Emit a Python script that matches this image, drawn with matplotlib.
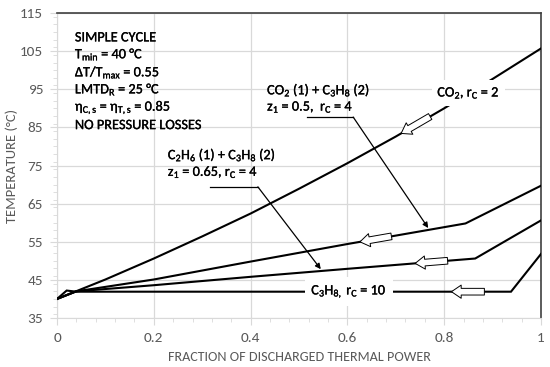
import numpy as np
import matplotlib
matplotlib.use("Agg")
import matplotlib.pyplot as plt
import matplotlib.patheffects as pe
from matplotlib.patches import FancyArrowPatch
from matplotlib.ticker import MultipleLocator, FuncFormatter

plt.rcParams['font.family'] = ['Carlito', 'DejaVu Sans']
plt.rcParams['mathtext.fontset'] = 'custom'
plt.rcParams['mathtext.rm'] = 'Carlito'
plt.rcParams['mathtext.it'] = 'Carlito'

# ---- data ----
co2_x = [0.0, 0.1, 0.2, 0.3, 0.4, 0.5, 0.6, 0.7, 0.8, 0.9, 1.0]
co2_t = [40.0, 45.1, 50.6, 56.4, 62.4, 68.9, 75.6, 82.6, 90.0, 97.7, 105.7]

co2c3_x = [0.0, 0.04, 0.2, 0.4, 0.6, 0.844, 1.0]
co2c3_t = [40.0, 42.0, 45.1, 49.8, 54.4, 59.8, 69.7]

c2c3_x = [0.0, 0.04, 0.2, 0.4, 0.6, 0.864, 1.0]
c2c3_t = [40.0, 42.0, 43.6, 45.8, 47.9, 50.6, 60.6]

c3_x = [0.0, 0.02, 0.04, 0.938, 1.0]
c3_t = [40.0, 42.2, 41.9, 41.9, 51.8]

# hollow flow-direction arrows (tail x, tip x) on each curve
arrows = [
    (co2_x, co2_t, 0.771, 0.711),
    (co2c3_x, co2c3_t, 0.691, 0.626),
    (c2c3_x, c2c3_t, 0.807, 0.740),
    (c3_x, c3_t, 0.883, 0.815),
]

x_ticks = [0, 0.2, 0.4, 0.6, 0.8, 1.0]
y_ticks = [35, 45, 55, 65, 75, 85, 95, 105, 115]

info_lines = [
    'SIMPLE CYCLE',
    r'T$_\mathregular{min}$ = 40 °C',
    r'ΔT/T$_\mathregular{max}$ = 0.55',
    r'LMTD$_\mathregular{R}$ = 25 °C',
    r'η$_\mathregular{C,s}$ = η$_\mathregular{T,s}$ = 0.85',
    'NO PRESSURE LOSSES',
]
info_y = [108.6, 104.0, 99.4, 94.8, 90.2, 85.6]

# ---- figure ----
fig = plt.figure(figsize=(5.5, 3.67), dpi=100)
ax = fig.add_axes([57/550, 1-318/367, (541-57)/550, (318-13)/367])
ax.set_xlim(0, 1)
ax.set_ylim(35, 115)

grid_c = '#d9d9d9'
tick_c = '#595959'
fs = 10.3
bold_fx = [pe.withStroke(linewidth=0.2, foreground='black')]
ax.set_xticks(x_ticks)
ax.set_yticks(y_ticks)
ax.xaxis.set_minor_locator(MultipleLocator(0.04))
ax.yaxis.set_minor_locator(MultipleLocator(2))
ax.xaxis.set_major_formatter(FuncFormatter(lambda v, p: f'{v:g}'))
ax.grid(True, which='major', color=grid_c, lw=0.9)
ax.set_axisbelow(True)
ax.tick_params(which='major', direction='out', length=5, color=grid_c,
               labelcolor=tick_c, labelsize=11, pad=5)
ax.tick_params(which='minor', direction='out', length=3, color=grid_c)
for s in ['left', 'bottom']:
    ax.spines[s].set_color(grid_c)
for s in ['top', 'right']:
    ax.spines[s].set_color('#404040')
    ax.spines[s].set_linewidth(1.2)

lw = 1.5
for xs, ts in [(co2_x, co2_t), (co2c3_x, co2c3_t), (c2c3_x, c2c3_t), (c3_x, c3_t)]:
    ax.plot(xs, ts, color='black', lw=lw, zorder=3, solid_joinstyle='miter')

for xs, ts, xt, xh in arrows:
    yt = np.interp(xt, xs, ts)
    yh = np.interp(xh, xs, ts)
    a = FancyArrowPatch((xt, yt), (xh, yh),
                        arrowstyle='simple,head_length=7,head_width=9.5,tail_width=4.8',
                        mutation_scale=1, fc='white', ec='black', lw=0.7,
                        shrinkA=0, shrinkB=0, zorder=5)
    ax.add_patch(a)

# line labels with white background
ax.text(0.85, 94.0, r'CO$_\mathregular{2}$, r$_\mathregular{C}$ = 2', ha='center', va='center',
        fontsize=fs, zorder=6, path_effects=bold_fx,
        bbox=dict(boxstyle='square,pad=0.4', fc='white', ec='none'))
ax.text(0.603, 41.9, r'C$_\mathregular{3}$H$_\mathregular{8,}$ r$_\mathregular{C}$ = 10', ha='center', va='center',
        fontsize=fs, zorder=6, path_effects=bold_fx,
        bbox=dict(boxstyle='square,pad=0.45', fc='white', ec='none'))

# mixture labels with leaders
ax.text(0.434, 94.8, r'CO$_\mathregular{2}$ (1) + C$_\mathregular{3}$H$_\mathregular{8}$ (2)',
        ha='left', va='center', fontsize=fs, zorder=6, path_effects=bold_fx)
ax.text(0.434, 90.3, r'z$_\mathregular{1}$ = 0.5,  r$_\mathregular{C}$ = 4',
        ha='left', va='center', fontsize=fs, zorder=6, path_effects=bold_fx)
ax.plot([0.517, 0.612], [87.7, 87.7], color='black', lw=0.9, zorder=6)
ax.annotate('', xy=(0.767, 58.6), xytext=(0.612, 87.7),
            arrowprops=dict(arrowstyle='-|>', lw=0.9, color='black', mutation_scale=8,
                            shrinkA=0, shrinkB=0), zorder=6)

ax.text(0.229, 77.8, r'C$_\mathregular{2}$H$_\mathregular{6}$ (1) + C$_\mathregular{3}$H$_\mathregular{8}$ (2)',
        ha='left', va='center', fontsize=fs, zorder=6, path_effects=bold_fx)
ax.text(0.229, 73.3, r'z$_\mathregular{1}$ = 0.65, r$_\mathregular{C}$ = 4',
        ha='left', va='center', fontsize=fs, zorder=6, path_effects=bold_fx)
ax.plot([0.316, 0.415], [69.4, 69.4], color='black', lw=0.9, zorder=6)
ax.annotate('', xy=(0.545, 47.8), xytext=(0.415, 69.4),
            arrowprops=dict(arrowstyle='-|>', lw=0.9, color='black', mutation_scale=8,
                            shrinkA=0, shrinkB=0), zorder=6)

for s, y in zip(info_lines, info_y):
    ax.text(0.037, y, s, ha='left', va='center', fontsize=fs, zorder=6, path_effects=bold_fx)

fig.text(12/550, 1-165.5/367, 'TEMPERATURE (°C)', rotation=90, ha='center', va='center',
         color=tick_c, fontsize=10.5)
fig.text(299/550, 1-357/367, 'FRACTION OF DISCHARGED THERMAL POWER', ha='center', va='center',
         color=tick_c, fontsize=10.2)

fig.savefig('out.png', dpi=100)
